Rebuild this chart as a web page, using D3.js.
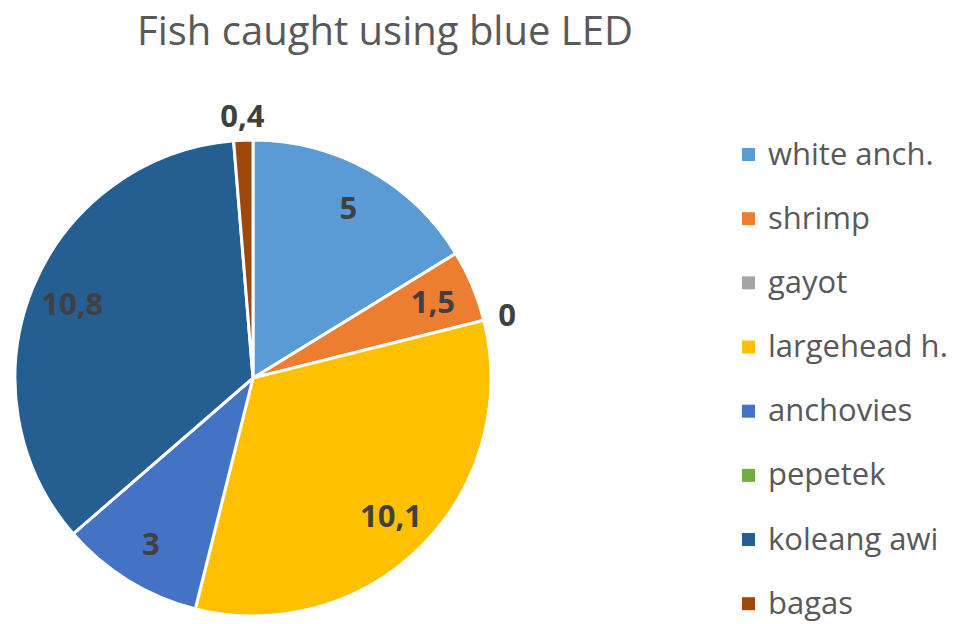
<!DOCTYPE html>
<html>
<head>
<meta charset="utf-8">
<script src="https://cdn.jsdelivr.net/npm/d3@7"></script>
<style>
  html, body { margin: 0; padding: 0; background: #fff; }
  svg { display: block; }
  text { font-family: "Open Sans", sans-serif; }
</style>
</head>
<body>
<svg id="chart" width="954" height="624"></svg>
<script>
// Catch per species, blue LED light trap
const title = "Fish caught using blue LED";
const species = ["white anch.", "shrimp", "gayot", "largehead h.", "anchovies", "pepetek", "koleang awi", "bagas"];
const catchValues = [5, 1.5, 0, 10.1, 3, 0, 10.8, 0.4];
const sliceColors = ["#5B9BD5", "#ED7D31", "#A5A5A5", "#FFC000", "#4472C4", "#70AD47", "#255E91", "#9E480E"];
// pepetek's zero label is suppressed (it would sit on the koleang awi edge)
const hiddenLabels = ["pepetek"];

const data = species.map((name, i) => ({ name, value: catchValues[i], color: sliceColors[i] }));

const svg = d3.select("#chart");
const cx = 253, cy = 378, R = 238;

svg.append("text")
  .attr("x", 385).attr("y", 45)
  .attr("text-anchor", "middle")
  .attr("font-size", 40)
  .attr("fill", "#595959")
  .text(title);

const pie = d3.pie().value(d => d.value).sort(null);
const arcs = pie(data);
const arc = d3.arc().innerRadius(0).outerRadius(R);

const g = svg.append("g").attr("transform", `translate(${cx},${cy})`);

g.selectAll("path.slice")
  .data(arcs.filter(a => a.data.value > 0))
  .join("path")
  .attr("class", "slice")
  .attr("d", arc)
  .attr("fill", d => d.data.color)
  .attr("stroke", "#fff")
  .attr("stroke-width", 3)
  .attr("stroke-linejoin", "round");

// value labels: inside for wide slices, just outside the rim for thin ones
const total = d3.sum(catchValues);
const fmt = v => String(v).replace(".", ",");
g.selectAll("text.lbl")
  .data(arcs.filter(a => !hiddenLabels.includes(a.data.name)))
  .join("text")
  .attr("class", "lbl")
  .each(function (d) {
    const share = d.data.value / total;
    const mid = (d.startAngle + d.endAngle) / 2;
    const r = share < 0.03 ? R * 1.1 : R * 0.82;
    d3.select(this)
      .attr("x", Math.sin(mid) * r)
      .attr("y", -Math.cos(mid) * r + 11);
  })
  .attr("text-anchor", "middle")
  .attr("font-size", 31)
  .attr("font-weight", "bold")
  .attr("fill", "#404040")
  .text(d => fmt(d.data.value));

// legend
const legendY = d3.scalePoint().domain(species).range([154.5, 603.7]);
const items = svg.append("g").selectAll("g").data(data).join("g")
  .attr("transform", d => `translate(742,${legendY(d.name)})`);
items.append("rect")
  .attr("x", 0).attr("y", -6.5).attr("width", 13).attr("height", 13)
  .attr("fill", d => d.color);
items.append("text")
  .attr("x", 26).attr("y", 10)
  .attr("font-size", 31)
  .attr("fill", "#595959")
  .text(d => d.name);
</script>
</body>
</html>
